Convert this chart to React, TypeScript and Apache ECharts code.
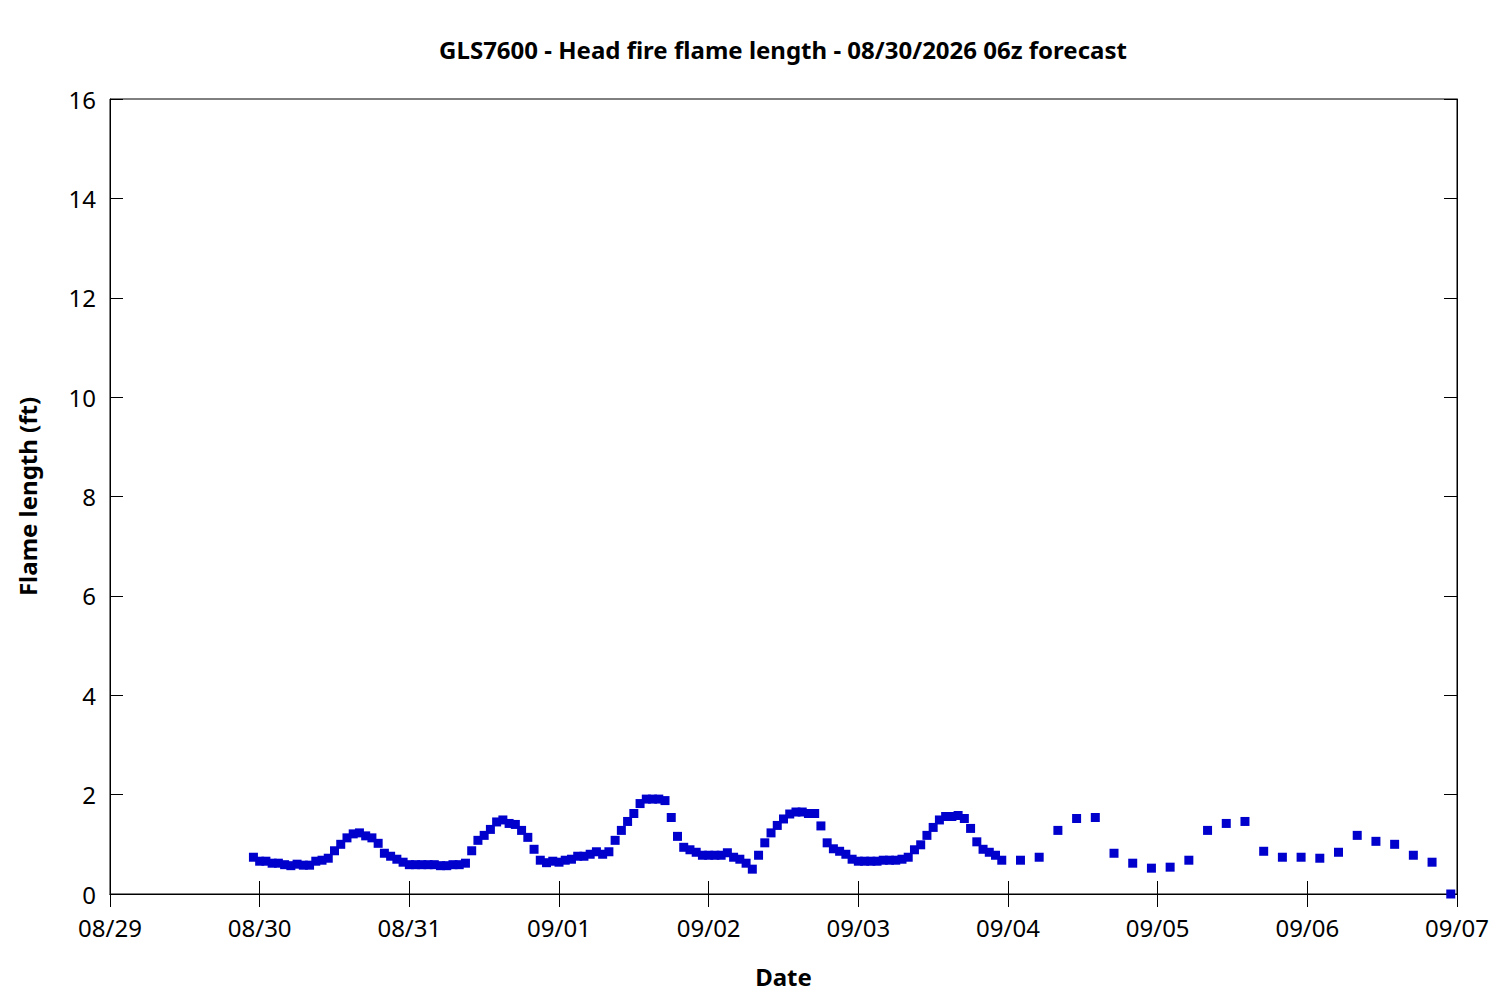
import React, { useEffect, useRef } from "react";
import * as echarts from "echarts";

const TITLE = "GLS7600 - Head fire flame length - 08/30/2026 06z forecast";
const X_NAME = "Date";
const Y_NAME = "Flame length (ft)";

// x-axis range (UTC midnights)
const X_MIN_DATE = "2026-08-29T00:00:00Z";
const X_MAX_DATE = "2026-09-07T00:00:00Z";

// Hourly forecast: 08/29 23:00 -> 09/03 23:00
const HOURLY_START = "2026-08-29T23:00:00Z";
const HOURLY_STEP_H = 1;
const hourlyValues = [
  0.74,
  // 08/30
  0.66, 0.66, 0.62, 0.62, 0.59, 0.57, 0.6, 0.58, 0.58, 0.66, 0.68, 0.72,
  0.87, 1.0, 1.13, 1.21, 1.23, 1.17, 1.13, 1.02, 0.82, 0.76, 0.7, 0.64,
  // 08/31
  0.59, 0.59, 0.59, 0.59, 0.59, 0.57, 0.57, 0.59, 0.59, 0.62, 0.87, 1.08,
  1.18, 1.3, 1.45, 1.49, 1.42, 1.4, 1.28, 1.14, 0.9, 0.68, 0.63, 0.66,
  // 09/01
  0.64, 0.68, 0.7, 0.76, 0.76, 0.8, 0.85, 0.8, 0.85, 1.08, 1.28, 1.46,
  1.62, 1.82, 1.91, 1.91, 1.91, 1.88, 1.54, 1.16, 0.94, 0.89, 0.84, 0.78,
  // 09/02
  0.78, 0.78, 0.78, 0.83, 0.74, 0.7, 0.62, 0.5, 0.78, 1.03, 1.23, 1.38,
  1.51, 1.61, 1.65, 1.65, 1.62, 1.62, 1.37, 1.03, 0.91, 0.86, 0.8, 0.7,
  // 09/03
  0.66, 0.66, 0.66, 0.66, 0.68, 0.68, 0.68, 0.7, 0.74, 0.89, 0.99, 1.18,
  1.34, 1.49, 1.56, 1.56, 1.58, 1.52, 1.32, 1.05, 0.9, 0.84, 0.78, 0.68,
];

// 3-hourly forecast: 09/04 02:00 -> 09/06 23:00
const THREE_HOURLY_START = "2026-09-04T02:00:00Z";
const THREE_HOURLY_STEP_H = 3;
const threeHourlyValues = [
  0.68, 0.74, 1.28, 1.52, 1.54, 0.82, 0.62, 0.52,
  0.54, 0.68, 1.28, 1.42, 1.46, 0.86, 0.74, 0.74,
  0.72, 0.84, 1.18, 1.06, 1.0, 0.78, 0.64, 0.0,
];

const yTicks = [0, 2, 4, 6, 8, 10, 12, 14, 16];

const HOUR = 3600000;
const DAY = 86400000;

function buildSeries(start: string, stepH: number, vals: number[]) {
  const t0 = Date.parse(start);
  return vals.map((v, i) => [t0 + i * stepH * HOUR, v]);
}

function fmtDate(v: number) {
  const d = new Date(v);
  const mm = String(d.getUTCMonth() + 1).padStart(2, "0");
  const dd = String(d.getUTCDate()).padStart(2, "0");
  return `${mm}/${dd}`;
}

const FONT = "Noto Sans";
const FS = 24;

export default function App() {
  const ref = useRef<HTMLDivElement>(null);
  useEffect(() => {
    document.body.style.margin = "0";
    if (!ref.current) return;
    const chart = echarts.init(ref.current, undefined, { renderer: "svg" });
    const data = [
      ...buildSeries(HOURLY_START, HOURLY_STEP_H, hourlyValues),
      ...buildSeries(THREE_HOURLY_START, THREE_HOURLY_STEP_H, threeHourlyValues),
    ];
    const xMin = Date.parse(X_MIN_DATE);
    const xMax = Date.parse(X_MAX_DATE);
    const tickCommon = {
      show: true,
      inside: true,
      length: 13,
      lineStyle: { color: "#000", width: 1 },
    };
    chart.setOption({
      animation: false,
      backgroundColor: "#fff",
      textStyle: { fontFamily: FONT },
      title: {
        text: TITLE,
        left: 778,
        top: 32,
        textAlign: "center",
        textStyle: {
          fontFamily: FONT,
          fontWeight: "bold",
          fontSize: FS,
          color: "#000",
        },
      },
      grid: {
        left: 110,
        top: 99,
        right: 43,
        bottom: 106,
        show: true,
        borderColor: "#000",
        borderWidth: 1,
        backgroundColor: "transparent",
      },
      xAxis: [
        {
          type: "value",
          min: xMin,
          max: xMax,
          interval: DAY,
          position: "bottom",
          name: X_NAME,
          nameLocation: "middle",
          nameGap: 70,
          nameTextStyle: {
            fontFamily: FONT,
            fontWeight: "bold",
            fontSize: FS,
            color: "#000",
          },
          axisLine: { show: true, lineStyle: { color: "#000", width: 1 } },
          axisTick: tickCommon,
          splitLine: { show: false },
          axisLabel: {
            fontFamily: FONT,
            fontSize: FS,
            color: "#000",
            margin: 21,
            formatter: (v: number) => fmtDate(v),
          },
        },
        {
          type: "value",
          min: xMin,
          max: xMax,
          interval: DAY,
          position: "top",
          axisLine: { show: true, lineStyle: { color: "#000", width: 1 } },
          axisTick: tickCommon,
          splitLine: { show: false },
          axisLabel: { show: false },
        },
      ],
      yAxis: [
        {
          type: "value",
          min: yTicks[0],
          max: yTicks[yTicks.length - 1],
          interval: 2,
          position: "left",
          name: Y_NAME,
          nameLocation: "middle",
          nameGap: 71,
          nameTextStyle: {
            fontFamily: FONT,
            fontWeight: "bold",
            fontSize: FS,
            color: "#000",
          },
          axisLine: { show: true, lineStyle: { color: "#000", width: 1 } },
          axisTick: tickCommon,
          splitLine: { show: false },
          axisLabel: {
            fontFamily: FONT,
            fontSize: FS,
            color: "#000",
            margin: 14,
          },
        },
        {
          type: "value",
          min: yTicks[0],
          max: yTicks[yTicks.length - 1],
          interval: 2,
          position: "right",
          axisLine: { show: true, lineStyle: { color: "#000", width: 1 } },
          axisTick: tickCommon,
          splitLine: { show: false },
          axisLabel: { show: false },
        },
      ],
      series: [
        {
          type: "scatter",
          xAxisIndex: 0,
          yAxisIndex: 0,
          data,
          symbol: "rect",
          symbolSize: 9,
          itemStyle: { color: "#0000cc", opacity: 1 },
          clip: false,
        },
      ],
    });
    return () => chart.dispose();
  }, []);
  return <div ref={ref} style={{ width: 1500, height: 1000 }} />;
}
